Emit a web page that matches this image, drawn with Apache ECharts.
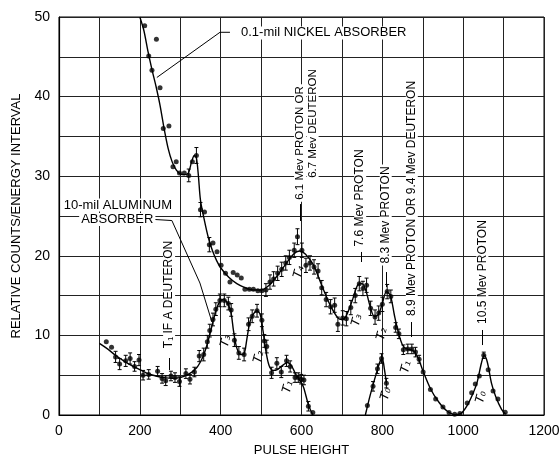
<!DOCTYPE html>
<html><head><meta charset="utf-8">
<script src="https://cdn.jsdelivr.net/npm/echarts@6/dist/echarts.min.js"></script>
<style>html,body{margin:0;padding:0;background:#fff}#c{width:560px;height:455px}</style>
</head><body><div id="c"></div>
<script>
// ---- tick labels ----
const xTickLabels = [0, 200, 400, 600, 800, 1000, 1200];
const yTickLabels = [0, 10, 20, 30, 40, 50];

// ---- 0.1-mil nickel absorber: measured points (x, y, error half-height) ----
const nickelX = [204,212,222,230,241,250,258,272,282,290,298,310,321,330,340,350,360,372,381,391,401,412,423,431,441,451,460,471,481,492,502,512,522,531,541,551,561,570,582,590,601,611,621,631,641,650,661,672,682,690,702,711,722,733,743,752,761,771,782,791,800,812,821,833,841,852,863,873,882,891,901,919,932,950,965,979,992,1010,1021,1030,1040,1051,1062,1074,1086,1104];
const nickelY = [50.2,48.9,45.1,43.3,47.2,41.1,36.0,36.3,31.2,31.8,30.4,30.4,30.1,31.8,32.6,25.8,25.5,21.4,21.6,20.5,18.8,17.8,16.7,17.9,17.6,17.2,15.8,15.8,15.8,15.6,15.6,15.7,16.7,17.1,17.8,18.3,19.1,19.8,20.7,22.4,20.7,18.8,19.1,18.6,18.1,16.0,14.5,13.6,13.8,11.4,12.2,12.1,13.5,15.0,16.5,15.9,16.3,13.4,12.3,12.8,13.9,15.5,14.9,11.0,10.2,8.2,8.3,8.3,7.9,7.0,5.4,3.2,2.0,1.0,0.3,0.1,0.2,1.5,2.8,3.9,4.9,7.5,5.7,3.0,2.0,0.35];
const nickelErr = [0,0,0,0,0,0,0,0,0,0,0,0,0.8,0,1.0,0.9,0,0.9,0,0,0,0,0,0,0,0,0,0,0,0,0,0.8,0.9,0.9,0.9,0.9,0.9,0.9,0.9,1.0,0.9,0.9,0.9,0.9,0.9,0.9,0.9,0.9,0.9,0.9,0.9,0.9,0.9,0.9,0.9,0.9,0.9,0.9,0.9,0.9,0.9,0.9,0.8,0.6,0.6,0.6,0.6,0.6,0.6,0.5,0,0,0,0,0,0,0,0,0,0,0,0.4,0,0,0,0];

// ---- 10-mil aluminum absorber: measured points ----
const alX = [117,130,140,150,165,176,187,198,208,222,244,255,264,277,287,298,314,324,335,347,358,367,373,381,388,398,409,419,426,434,445,458,469,478,490,502,508,514,526,539,550,563,572,584,592,599,606,617,628];
const alY = [9.2,8.5,7.3,6.4,6.8,7.1,6.1,6.9,5.0,5.1,5.5,4.6,4.3,4.9,4.7,4.2,5.2,4.5,5.4,7.4,7.6,9.2,10.6,12.0,13.3,14.4,14.4,14.0,13.2,9.4,7.8,7.6,11.4,12.4,13.1,11.9,9.3,8.6,5.3,6.5,5.4,6.8,6.1,4.7,4.7,4.5,4.4,1.1,0.3];
const alErr = [0,0,0.7,0.7,0.7,0.7,0.6,0.7,0.6,0.6,0.6,0.6,0.6,0.6,0.6,0.6,0.6,0.6,0.6,0.7,0.8,0.8,0.8,0.8,0.8,0.8,0.8,0.8,0.8,0.8,0.8,0.8,0.8,0.8,0.8,0.8,0.8,0.8,0.7,0.7,0.7,0.7,0.7,0.6,0.6,0.6,0.6,0.6,0];
const alT0X = [763,777,788,798,810];
const alT0Y = [1.2,3.6,5.8,7.1,4.0];
const alT0Err = [0,0.6,0.6,0.6,0.6];

// ---- hand-drawn fit curves ----
const nickelCurveX = [200,210,220,230,240,250,260,270,280,290,300,310,320,328,335,340,345,350,360,370,380,390,400,420,440,460,480,500,520,540,560,580,595,610,630,650,670,690,700,710,725,740,750,760,770,780,790,800,810,820,830,840,850,860,870,880,890,900,920,940,960,980,995,1010,1025,1035,1045,1052,1060,1070,1080,1095,1105];
const nickelCurveY = [50.0,48.3,45.7,43.4,41.3,38.9,36.0,33.5,31.8,30.8,30.3,30.2,30.4,31.8,32.6,32.3,30.0,27.0,24.4,22.2,20.6,19.4,18.5,17.3,16.5,16.0,15.7,15.7,16.3,17.5,18.9,20.2,20.6,20.2,18.8,16.3,13.9,12.2,12.0,12.4,14.3,16.4,16.5,15.5,13.6,12.4,12.6,14.0,15.5,15.0,12.5,10.3,8.8,8.3,8.2,7.9,7.0,5.6,3.2,1.6,0.5,0.05,0.2,1.2,2.8,4.2,6.5,7.5,6.6,4.0,2.4,0.7,0.1];
const alCurveX = [100,120,140,160,180,200,220,240,260,280,300,320,340,355,365,375,385,395,405,415,425,432,440,450,458,465,472,480,490,498,505,512,520,530,540,555,565,575,585,595,605,617,628];
const alCurveY = [9.0,8.3,7.5,6.8,6.2,5.7,5.2,4.9,4.7,4.6,4.7,5.1,5.9,7.2,8.6,10.5,12.5,14.0,14.5,14.2,13.0,10.5,8.4,7.6,7.7,9.6,11.6,12.6,13.1,12.6,10.5,8.0,6.2,5.6,5.7,6.3,6.6,6.2,5.2,4.4,3.5,1.3,0.0];
const alT0CurveX = [758,770,785,795,800,805,810];
const alT0CurveY = [0.0,2.5,5.2,6.8,7.0,5.8,4.0];

const FONT = 'Liberation Sans, Arial, sans-serif';
const zip = (xs, ys, es) => xs.map((x, i) => es ? [x, ys[i], es[i]] : [x, ys[i]]);

const chart = echarts.init(document.getElementById('c'), null, {renderer: 'canvas'});

const errRender = (params, api) => {
  const x = api.value(0), y = api.value(1), e = api.value(2);
  if (!e) return {type: 'group', children: []};
  const t = api.coord([x, y + e]), b = api.coord([x, y - e]);
  const w = 2, st = {stroke: '#000', lineWidth: 1};
  return {type: 'group', children: [
    {type: 'line', shape: {x1: t[0], y1: t[1], x2: b[0], y2: b[1]}, style: st},
    {type: 'line', shape: {x1: t[0] - w, y1: t[1], x2: t[0] + w, y2: t[1]}, style: st},
    {type: 'line', shape: {x1: b[0] - w, y1: b[1], x2: b[0] + w, y2: b[1]}, style: st}
  ]};
};

const curveStyle = {color: '#000', width: 1.4};
const dot = {color: '#000'};

chart.setOption({
  animation: false,
  backgroundColor: '#fff',
  grid: {left: 59, right: 16, top: 17, bottom: 40, show: true, borderColor: '#000', borderWidth: 1,
         containLabel: false, outerBoundsMode: 'none'},
  xAxis: {
    type: 'value', min: 0, max: 1200, interval: 100,
    axisLine: {show: true, onZero: false, lineStyle: {color: '#000', width: 1.2}},
    axisTick: {show: false},
    splitLine: {show: true, lineStyle: {color: '#222', width: 1}},
    axisLabel: {formatter: v => xTickLabels.includes(v) ? String(v) : '', color: '#000', fontSize: 14, fontFamily: FONT, margin: 9, showMinLabel: true, showMaxLabel: true},
    name: 'PULSE HEIGHT', nameLocation: 'middle', nameGap: 29,
    nameTextStyle: {color: '#000', fontSize: 13, fontFamily: FONT}
  },
  yAxis: {
    type: 'value', min: 0, max: 50, interval: 5,
    axisLine: {show: true, lineStyle: {color: '#000', width: 1.2}},
    axisTick: {show: false},
    splitLine: {show: true, lineStyle: {color: '#222', width: 1}},
    axisLabel: {formatter: v => yTickLabels.includes(v) ? String(v) : '', color: '#000', fontSize: 14, fontFamily: FONT, margin: 9, showMinLabel: true, showMaxLabel: true},
    name: 'RELATIVE COUNTS/ENERGY INTERVAL', nameLocation: 'middle', nameGap: 36,
    nameTextStyle: {color: '#000', fontSize: 13, fontFamily: FONT}
  },
  series: [
    {type: 'line', data: zip(nickelCurveX, nickelCurveY), smooth: 0.3, showSymbol: false, lineStyle: curveStyle, z: 3},
    {type: 'line', data: zip(alCurveX, alCurveY), smooth: 0.3, showSymbol: false, lineStyle: curveStyle, z: 3},
    {type: 'line', data: zip(alT0CurveX, alT0CurveY), smooth: 0.3, showSymbol: false, lineStyle: curveStyle, z: 3},
    {type: 'scatter', data: zip(nickelX, nickelY), symbolSize: 5, itemStyle: dot, z: 4},
    {type: 'scatter', data: zip(alX, alY), symbolSize: 5, itemStyle: dot, z: 4},
    {type: 'scatter', data: zip(alT0X, alT0Y), symbolSize: 5, itemStyle: dot, z: 4},
    {type: 'custom', renderItem: errRender, encode: {x: 0, y: 1},
     data: zip(nickelX, nickelY, nickelErr).concat(zip(alX, alY, alErr), zip(alT0X, alT0Y, alT0Err)), z: 4},
    // arrowed leaders
    {type: 'lines', coordinateSystem: 'cartesian2d', polyline: true, symbol: ['none', 'arrow'], symbolSize: 7,
     lineStyle: {color: '#000', width: 1, opacity: 1}, z: 5,
     data: [
       {coords: [[423, 48.08], [398.3, 48.08], [242.1, 42.4]]},
       {coords: [[237.7, 24.56], [279.3, 24.43], [348.7, 16.58], [378.4, 11.68]]}
     ]},
    // short leaders for energy labels
    {type: 'lines', coordinateSystem: 'cartesian2d', polyline: false, symbol: 'none',
     lineStyle: {color: '#000', width: 1, opacity: 1}, z: 5,
     data: [
       {coords: [[271.8, 7.16], [271.8, 5.65]]},
       {coords: [[596.5, 26.5], [596.5, 24.37]]},
       {coords: [[747.7, 20.48], [747.7, 19.22]]},
       {coords: [[809.7, 17.96], [809.7, 16.08]]},
       {coords: [[871.7, 11.68], [871.7, 9.8]]},
       {coords: [[1047.8, 10.68], [1047.8, 8.79]]}
     ]}
  ]
});

// ---- annotation texts anchored at data coordinates ----
const notes = [
  {t: '0.1-mil NICKEL ABSORBER', x: 445.4, y: 48.0, r: 0, a: 'left', s: 13},
  {t: '10-mil ALUMINUM', x: 145.7, y: 26.38, r: 0, a: 'center', s: 13},
  {t: 'ABSORBER', x: 144.2, y: 24.56, r: 0, a: 'center', s: 13},
  {t: 'T₁ IF A DEUTERON', x: 272.4, y: 15.14, r: Math.PI / 2, a: 'center', s: 12},
  {t: '6.1 Mev PROTON OR', x: 596.5, y: 34.17, r: Math.PI / 2, a: 'center', s: 11.5},
  {t: '6.7 Mev DEUTERON', x: 627.5, y: 36.62, r: Math.PI / 2, a: 'center', s: 11.5},
  {t: '7.6 Mev PROTON', x: 745.2, y: 27.26, r: Math.PI / 2, a: 'center', s: 12},
  {t: '8.3 Mev PROTON', x: 808.4, y: 25.13, r: Math.PI / 2, a: 'center', s: 12},
  {t: '8.9 Mev PROTON OR 9.4 Mev DEUTERON', x: 872.9, y: 27.2, r: Math.PI / 2, a: 'center', s: 12},
  {t: '10.5 Mev PROTON', x: 1047.6, y: 17.96, r: Math.PI / 2, a: 'center', s: 12}
];
const tLabels = [
  {t: 'T₃', x: 413.2, y: 9.30}, {t: 'T₂', x: 494.9, y: 7.29}, {t: 'T₁', x: 566.8, y: 3.52},
  {t: 'T₄', x: 594.1, y: 17.96}, {t: 'T₃', x: 737.7, y: 11.93}, {t: 'T₂', x: 799.7, y: 10.18},
  {t: 'T₀', x: 809.6, y: 2.64}, {t: 'T₁', x: 859.2, y: 6.03}, {t: 'T₀', x: 1045, y: 2.26}
];
const toPx = (x, y) => chart.convertToPixel({xAxisIndex: 0, yAxisIndex: 0}, [x, y]);
const graphics = [];
notes.forEach(n => {
  const p = toPx(n.x, n.y);
  graphics.push({type: 'text', x: p[0], y: p[1], rotation: n.r, z: 10,
    style: {text: n.t, fill: '#000', fontSize: n.s, fontFamily: FONT, align: n.a, verticalAlign: 'middle',
            backgroundColor: '#fff', padding: [0, 2]}});
});
tLabels.forEach(n => {
  const p = toPx(n.x, n.y);
  graphics.push({type: 'text', x: p[0], y: p[1], rotation: 1.3, z: 10,
    style: {text: n.t, fill: '#000', fontSize: 12, fontStyle: 'italic', fontFamily: 'DejaVu Sans, sans-serif', align: 'center', verticalAlign: 'middle'}});
});
chart.setOption({graphic: graphics});
</script>
</body></html>
